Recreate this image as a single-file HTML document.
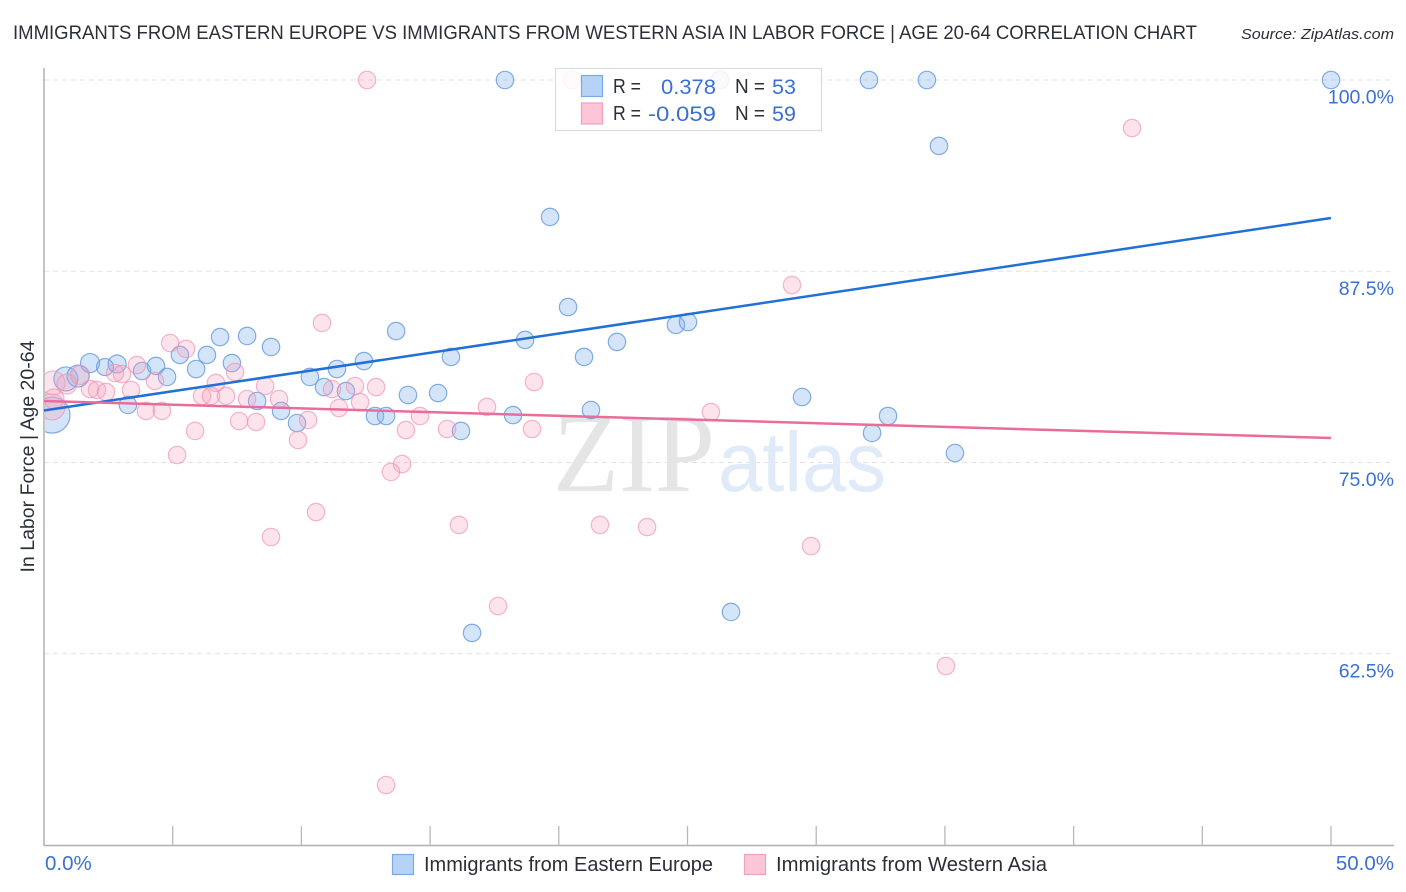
<!DOCTYPE html>
<html lang="en">
<head>
<meta charset="utf-8">
<title>Immigrants from Eastern Europe vs Immigrants from Western Asia correlation chart</title>
<style>
html,body{margin:0;padding:0;background:#fff;}
svg{display:block;font-family:"Liberation Sans",sans-serif;}
</style>
</head>
<body>
<svg id="chart" width="1406" height="892" viewBox="0 0 1406 892" xmlns="http://www.w3.org/2000/svg">
  <defs>
    <clipPath id="plot-clip"><rect x="45" y="60" width="1349" height="785"/></clipPath>
  </defs>
  <rect width="1406" height="892" fill="#fff"/>
  <text x="13" y="39" font-size="19.5" fill="#2b2f38" textLength="1184" lengthAdjust="spacingAndGlyphs">IMMIGRANTS FROM EASTERN EUROPE VS IMMIGRANTS FROM WESTERN ASIA IN LABOR FORCE | AGE 20-64 CORRELATION CHART</text>
  <text x="1241" y="39" font-size="15" font-style="italic" fill="#2b2f38" textLength="153" lengthAdjust="spacingAndGlyphs">Source: ZipAtlas.com</text>

  <g id="grid"></g>

  <text x="553" y="491" font-family="'Liberation Serif',serif" font-size="112" fill="#e5e5e5" textLength="162" lengthAdjust="spacingAndGlyphs">ZIP</text>
  <text x="718" y="491" font-size="84" fill="#e0eaf9" textLength="168" lengthAdjust="spacingAndGlyphs">atlas</text>

  <g id="axes"></g>
  <g id="points-b" clip-path="url(#plot-clip)"></g>
  <g id="points-p" clip-path="url(#plot-clip)"></g>
  <g id="trends"></g>
  <g id="labels"></g>

  <text transform="translate(34,456.5) rotate(-90)" text-anchor="middle" font-size="19" fill="#2b2f38" textLength="232" lengthAdjust="spacingAndGlyphs">In Labor Force | Age 20-64</text>

  <g>
    <rect x="555.5" y="68.5" width="266" height="62" fill="#fff" fill-opacity="0.85" stroke="#dcdcdc" stroke-width="1.2"/>
    <rect x="581.5" y="75.5" width="21" height="21" fill="#b5d2f7" stroke="#7ba8e6" stroke-width="1.2"/>
    <rect x="581.5" y="103" width="21" height="21" fill="#fcc6d8" stroke="#f2a0bb" stroke-width="1.2"/>
    <g font-size="20" fill="#2b2f38">
      <text x="613" y="93" textLength="28" lengthAdjust="spacingAndGlyphs">R =</text>
      <text x="735" y="93" textLength="30" lengthAdjust="spacingAndGlyphs">N =</text>
      <text x="613" y="120" textLength="28" lengthAdjust="spacingAndGlyphs">R =</text>
      <text x="735" y="120" textLength="30" lengthAdjust="spacingAndGlyphs">N =</text>
    </g>
    <g font-size="21.5" fill="#3b70d2">
      <text x="661" y="94" textLength="55" lengthAdjust="spacingAndGlyphs">0.378</text>
      <text x="772" y="94">53</text>
      <text x="648" y="121" textLength="68" lengthAdjust="spacingAndGlyphs">-0.059</text>
      <text x="772" y="121">59</text>
    </g>
  </g>

  <g>
    <rect x="392.5" y="854.5" width="21" height="20" fill="#b5d2f7" stroke="#7ba8e6" stroke-width="1.2"/>
    <text x="424" y="871" font-size="20" fill="#2b2f38" textLength="289" lengthAdjust="spacingAndGlyphs">Immigrants from Eastern Europe</text>
    <rect x="744.5" y="854.5" width="21" height="20" fill="#fcc6d8" stroke="#f2a0bb" stroke-width="1.2"/>
    <text x="776" y="871" font-size="20" fill="#2b2f38" textLength="271" lengthAdjust="spacingAndGlyphs">Immigrants from Western Asia</text>
  </g>
</svg>
<script>
const blueX = [0.31,0.85,1.32,1.79,2.37,2.84,3.26,3.81,4.35,4.78,5.28,5.91,6.33,6.84,7.30,7.89,8.82,8.28,9.21,9.83,10.33,10.88,11.38,11.73,12.43,12.86,13.29,13.68,14.14,15.31,15.81,16.20,16.63,17.91,18.22,18.69,19.66,20.36,20.98,21.25,22.26,24.55,25.02,26.26,26.69,29.45,32.05,32.17,32.79,34.30,34.77,35.39,50];
const blueY = [78.10,80.46,80.65,81.50,81.24,81.44,78.76,80.98,81.31,80.59,82.03,81.11,82.03,83.20,81.50,83.27,82.55,79.02,78.37,77.58,80.59,79.93,81.11,79.67,81.63,78.04,78.04,83.59,79.41,79.54,81.90,77.06,63.86,100,78.10,83.01,91.05,85.16,81.90,78.43,82.88,83.99,84.18,100,65.23,79.28,100,76.93,78.04,100,95.69,75.62,100];
const blueR = [18,12,11,9.5,8.5,9,8.7,8.7,8.7,8.7,8.7,8.7,8.7,8.7,8.7,8.7,8.7,8.7,8.7,8.7,8.7,8.7,8.7,8.7,8.7,8.7,8.7,8.7,8.7,8.7,8.7,8.7,8.7,8.7,8.7,8.7,8.7,8.7,8.7,8.7,8.7,8.7,8.7,8.7,8.7,8.7,8.7,8.7,8.7,8.7,8.7,8.7,8.7];
const pinkX = [0.31,0.35,0.39,4.90,5.52,3.61,2.76,3.03,0.89,1.40,1.79,2.06,2.41,3.38,4.31,3.96,4.58,5.87,5.17,6.68,6.14,6.49,7.07,7.42,8.59,7.89,9.13,7.58,8.24,9.87,11.19,12.08,12.90,11.46,12.28,10.26,14.06,14.61,15.66,17.21,18.96,19.04,13.91,13.48,10.80,12.55,20.51,25.91,29.06,42.27,8.82,10.57,16.12,21.60,23.43,29.80,17.64,35.04,13.29];
const pinkY = [78.63,80.20,79.15,82.81,82.42,81.37,80.85,80.78,80.13,80.72,79.80,79.74,79.61,79.74,80.33,78.37,78.37,77.06,75.49,80.20,79.35,79.35,79.35,80.92,80.00,79.15,79.15,77.71,77.65,76.47,79.80,80.00,79.93,78.56,78.95,77.78,77.12,78.04,77.19,78.63,77.19,80.26,74.90,74.38,84.12,100,100,78.30,86.60,96.86,70.13,71.76,70.92,70.92,70.78,69.54,65.62,61.70,53.92];
const pinkR = [13,12,10,8.7,8.7,8.7,8.7,8.7,10,9.5,8.7,8.7,8.7,8.7,8.7,8.7,8.7,8.7,8.7,8.7,8.7,8.7,8.7,8.7,8.7,8.7,8.7,8.7,8.7,8.7,8.7,8.7,8.7,8.7,8.7,8.7,8.7,8.7,8.7,8.7,8.7,8.7,8.7,8.7,8.7,8.7,8.7,8.7,8.7,8.7,8.7,8.7,8.7,8.7,8.7,8.7,8.7,8.7,8.7];
const blueTrend = [78.40, 90.98];
const pinkTrend = [79.02, 76.60];
const trendX = [0, 50];
const yTicks = [100, 87.5, 75, 62.5];
const yTickLabels = ["100.0%", "87.5%", "75.0%", "62.5%"];
const xTicks = [0, 5, 10, 15, 20, 25, 30, 35, 40, 45, 50];
const xEndLabels = ["0.0%", "50.0%"];

const NS = "http://www.w3.org/2000/svg";
function sx(v) { return 44 + (v / 50) * 1287; }
function sy(v) { return 80 + ((100 - v) / 50) * 765; }
function mk(tag, attrs, parent) {
  const el = document.createElementNS(NS, tag);
  for (const k in attrs) el.setAttribute(k, attrs[k]);
  parent.appendChild(el);
  return el;
}

const gridG = document.getElementById("grid");
yTicks.forEach(function (t) {
  const el = mk("line", {x1: 44, x2: 1394, y1: sy(t), y2: sy(t), stroke: "#e2e2e2", "stroke-width": 1, "stroke-dasharray": "5 4"}, gridG);
  
  
});

const axesG = document.getElementById("axes");
const yAxis = mk("line", {x1: 44, x2: 44, y1: 68, y2: 846, stroke: "#b0b0b0", "stroke-width": 1.5}, axesG);


const xAxis = mk("line", {x1: 44, x2: 1394, y1: 845.5, y2: 845.5, stroke: "#b0b0b0", "stroke-width": 1.5}, axesG);


xTicks.forEach(function (t) {
  const el = mk("line", {x1: sx(t), x2: sx(t), y1: 826, y2: 845, stroke: "#b8b8b8", "stroke-width": 1.3}, axesG);
  
  
});

const blueG = document.getElementById("points-b");
blueX.forEach(function (v, i) {
  const el = mk("circle", {cx: sx(v), cy: sy(blueY[i]), r: blueR[i], fill: "#7fb0ee", "fill-opacity": 0.33, stroke: "#6c9de2", "stroke-opacity": 0.85, "stroke-width": 1.2}, blueG);
  
  
});

const pinkG = document.getElementById("points-p");
pinkX.forEach(function (v, i) {
  const el = mk("circle", {cx: sx(v), cy: sy(pinkY[i]), r: pinkR[i], fill: "#f79dbb", "fill-opacity": 0.28, stroke: "#ee8fae", "stroke-opacity": 0.65, "stroke-width": 1.2}, pinkG);
  
  
});

const trendG = document.getElementById("trends");
const blueLine = mk("line", {x1: sx(trendX[0]), x2: sx(trendX[1]), y1: sy(blueTrend[0]), y2: sy(blueTrend[1]), stroke: "#2170d6", "stroke-width": 2.5}, trendG);


const pinkLine = mk("line", {x1: sx(trendX[0]), x2: sx(trendX[1]), y1: sy(pinkTrend[0]), y2: sy(pinkTrend[1]), stroke: "#e96c9c", "stroke-width": 2.5}, trendG);



const labelG = document.getElementById("labels");
yTicks.forEach(function (t, i) {
  const el = mk("text", {x: 1394, y: sy(t) + 23.5, "text-anchor": "end", "font-size": 19.5, fill: "#3b70d2"}, labelG);
  el.textContent = yTickLabels[i];
  
  
});
const x0 = mk("text", {x: 45, y: 870, "font-size": 20.5, fill: "#3b70d2"}, labelG);
x0.textContent = xEndLabels[0];


const x1 = mk("text", {x: 1394, y: 870, "text-anchor": "end", "font-size": 20.5, fill: "#3b70d2"}, labelG);
x1.textContent = xEndLabels[1];


</script>
</body>
</html>
